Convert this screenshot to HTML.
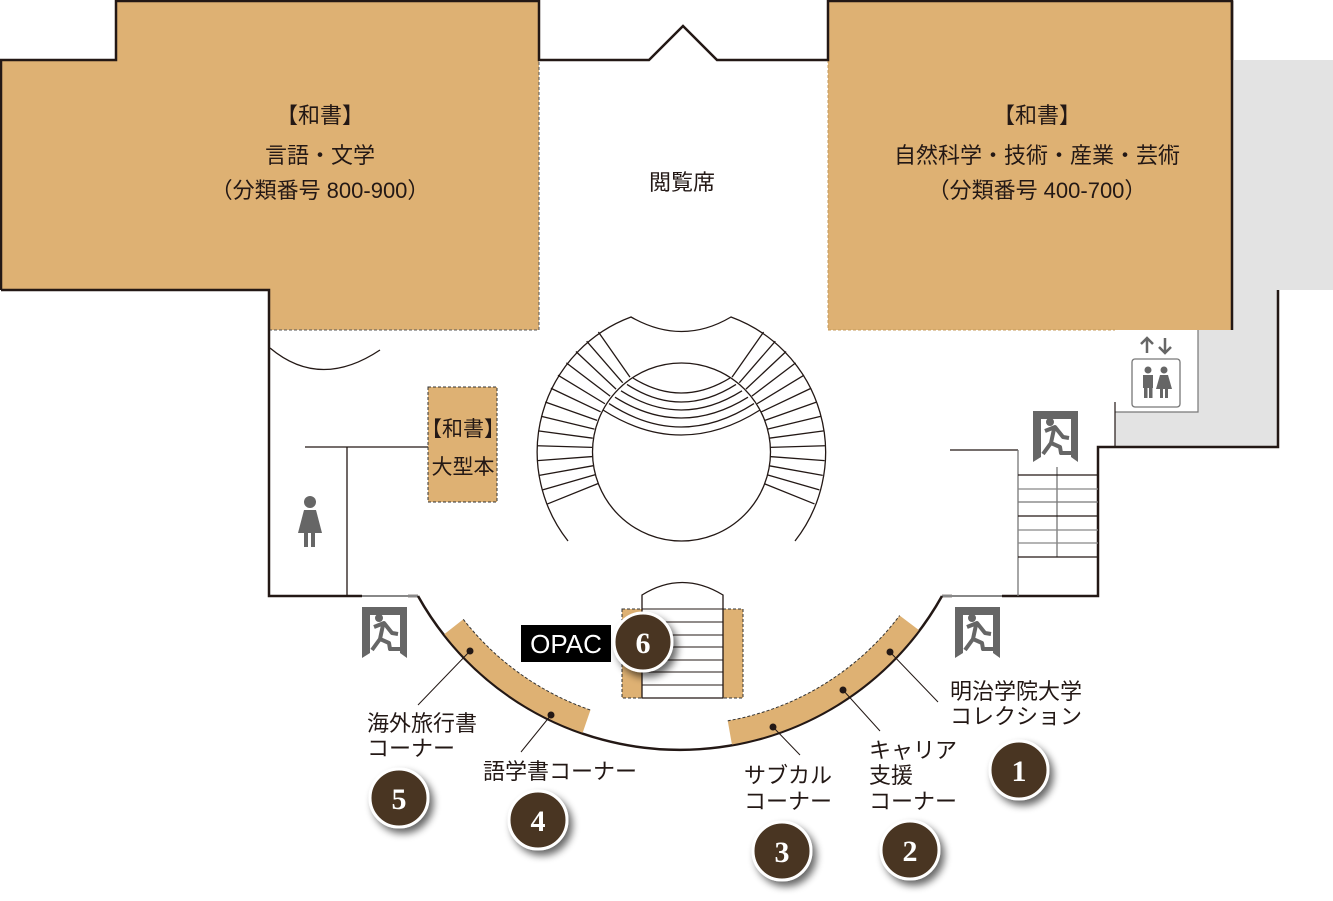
<!DOCTYPE html>
<html><head><meta charset="utf-8"><style>
html,body{margin:0;padding:0;background:#fff;}
svg{display:block;}
text{font-family:"Liberation Sans","Noto Sans CJK JP",sans-serif;fill:#231815;}
.n{font-family:"Liberation Serif","DejaVu Serif",serif;font-weight:bold;fill:#fff;font-size:30px;text-anchor:middle;}
</style></head><body>
<svg id="s" width="1333" height="901" viewBox="0 0 1333 901" xmlns="http://www.w3.org/2000/svg">
<defs>
<filter id="sh" x="-50%" y="-50%" width="200%" height="200%"><feGaussianBlur in="SourceAlpha" stdDeviation="4"/><feOffset dx="4" dy="5"/><feComponentTransfer><feFuncA type="linear" slope="0.6"/></feComponentTransfer><feMerge><feMergeNode/><feMergeNode in="SourceGraphic"/></feMerge></filter>
</defs>
<!-- gray area -->
<path d="M1232,60 H1333 V290 H1278 V447 H1115 V330 H1232 Z" fill="#e3e3e3"/>
<rect x="1115" y="330" width="83" height="82" fill="#fff"/>
<path d="M1198,330 V412 H1115" fill="none" stroke="#777" stroke-width="1.2"/>
<line x1="1115" y1="402" x2="1115" y2="447" stroke="#231815" stroke-width="1.2"/>
<!-- orange blocks -->
<path d="M1,60 H116 V1 H539 V330 H269 V290 H1 Z" fill="#deb173"/>
<path d="M828,1 H1232 V330 H828 Z" fill="#deb173"/>
<path d="M269,330 H539 V60" fill="none" stroke="#555" stroke-width="1" stroke-dasharray="3,2"/>
<path d="M828,60 V330 H1115" fill="none" stroke="#c49a5a" stroke-width="1" stroke-dasharray="3,2"/>
<!-- outline -->
<path d="M1,290 V60 H116 V1 H539 V60 H649 L683,26 L717,60 H828 V1 H1232 V60 M1232,60 V330 M1278,290 V447 H1098 V596 H1002 M942,596 H952 M418,596 H408 M362,596 H269 V290 H1" fill="none" stroke="#231815" stroke-width="2.5"/>
<path d="M1232,1 V60" stroke="#231815" stroke-width="2.5"/>
<line x1="942" y1="596" x2="1002" y2="596" stroke="#888" stroke-width="2"/>
<line x1="362" y1="596" x2="418" y2="596" stroke="#888" stroke-width="2"/>
<!-- big arc -->
<path d="M418,596 A300,300 0 0 0 942,596" fill="none" stroke="#231815" stroke-width="2.5"/>
<!-- arc shelves -->
<path id="sl" d="" fill="none" stroke="#deb173" stroke-width="24"/>
<path id="sr" d="" fill="none" stroke="#deb173" stroke-width="24"/>
<g id="rays" stroke="#231815" stroke-width="1.3" fill="none"></g>
<!-- stairs circle -->
<path d="M568,541 A144,144 0 0 1 631,317 Q682,346 731,317 A144,144 0 0 1 795,541" fill="none" stroke="#231815" stroke-width="1.3"/>
<circle cx="681.5" cy="452" r="89" fill="#fff" stroke="#231815" stroke-width="1.3"/>
<g fill="none" stroke="#231815" stroke-width="1.3" id="arcs"></g>
<!-- door arc -->
<path d="M270,348 Q320,390 380,350" fill="none" stroke="#231815" stroke-width="1.3"/>
<!-- restroom lines -->
<line x1="305" y1="447" x2="428" y2="447" stroke="#231815" stroke-width="1.3"/>
<line x1="347" y1="447" x2="347" y2="596" stroke="#231815" stroke-width="1.3"/>
<!-- large books box -->
<rect x="428" y="387" width="69" height="115" fill="#deb173" stroke="#333" stroke-width="1" stroke-dasharray="3,2"/>
<text x="463" y="436" font-size="21" text-anchor="middle">【和書】</text>
<text x="463" y="474" font-size="21" text-anchor="middle">大型本</text>
<!-- woman icon -->
<g fill="#666"><circle cx="310" cy="502" r="6"/><path d="M304,510 H316 L322,533 H298 Z"/><rect x="304" y="532" width="4" height="15"/><rect x="311" y="532" width="4" height="15"/></g>
<!-- right stairs -->
<g stroke="#231815" stroke-width="1.3">
<line x1="950" y1="450" x2="1018" y2="450"/>
<line x1="1018" y1="450" x2="1018" y2="596" stroke="#777"/>
<line x1="1057" y1="467" x2="1057" y2="557" stroke="#777"/>
<line x1="1018" y1="475" x2="1098" y2="475"/><line x1="1018" y1="489" x2="1098" y2="489" stroke="#888"/>
<line x1="1018" y1="502" x2="1098" y2="502" stroke="#777"/><line x1="1018" y1="516" x2="1098" y2="516"/>
<line x1="1018" y1="530" x2="1098" y2="530" stroke="#888"/><line x1="1018" y1="543" x2="1098" y2="543" stroke="#888"/>
<line x1="1018" y1="557" x2="1098" y2="557"/>
</g>
<!-- elevator -->
<g stroke="#666" stroke-width="2.5" fill="none"><path d="M1147,353 V338 M1141,344 L1147,338 L1153,344"/><path d="M1165,338 V353 M1159,347 L1165,353 L1171,347"/></g>
<rect x="1132" y="359" width="48" height="48" rx="3" fill="#fff" stroke="#777" stroke-width="1.3"/>
<g fill="#666"><circle cx="1148" cy="370" r="3.5"/><rect x="1143" y="375" width="10" height="13"/><rect x="1144" y="387" width="3.5" height="11"/><rect x="1149" y="387" width="3.5" height="11"/>
<circle cx="1164" cy="370" r="3.5"/><path d="M1160,375 H1168 L1172,389 H1156 Z"/><rect x="1160" y="388" width="3" height="10"/><rect x="1165" y="388" width="3" height="10"/></g>
<!-- exit signs -->
<g id="ex"></g>
<!-- OPAC stairs -->
<rect x="622" y="609" width="20" height="89" fill="#deb173" stroke="#333" stroke-dasharray="3,2" stroke-width="1"/>
<rect x="723" y="609" width="20" height="89" fill="#deb173" stroke="#333" stroke-dasharray="3,2" stroke-width="1"/>
<path d="M642,698 V595 Q682,570 723,595 V698 Z" fill="#fff" stroke="#231815" stroke-width="1.3"/>
<g stroke="#231815" stroke-width="1"><line x1="642" y1="609" x2="723" y2="609"/><line x1="642" y1="622" x2="723" y2="622"/><line x1="642" y1="635" x2="723" y2="635"/><line x1="642" y1="647" x2="723" y2="647"/><line x1="642" y1="660" x2="723" y2="660"/><line x1="642" y1="672" x2="723" y2="672"/><line x1="642" y1="685" x2="723" y2="685"/></g>
<rect x="521" y="625" width="90" height="37" fill="#000"/>
<text x="566" y="653" font-size="26" text-anchor="middle" style="fill:#fff">OPAC</text>
<!-- dots & leaders -->
<g stroke="#231815" stroke-width="1"><line x1="470" y1="651" x2="418" y2="705"/><line x1="551" y1="715" x2="521" y2="752"/><line x1="773" y1="727" x2="800" y2="755"/><line x1="843" y1="690" x2="880" y2="731"/><line x1="890" y1="652" x2="938" y2="702"/></g>
<g fill="#231815"><circle cx="470" cy="651" r="3.5"/><circle cx="551" cy="715" r="3.5"/><circle cx="773" cy="727" r="3.5"/><circle cx="843" cy="690" r="3.5"/><circle cx="890" cy="652" r="3.5"/></g>
<!-- texts -->
<g font-size="22" text-anchor="middle">
<text x="320" y="123">【和書】</text>
<text x="320" y="163">言語・文学</text>
<text x="320" y="198">（分類番号 800-900）</text>
<text x="1037" y="123">【和書】</text>
<text x="1037" y="163">自然科学・技術・産業・芸術</text>
<text x="1037" y="198">（分類番号 400-700）</text>
<text x="682" y="190">閲覧席</text>
</g>
<g font-size="22">
<text x="367" y="731">海外旅行書</text><text x="367" y="756">コーナー</text>
<text x="483" y="779">語学書コーナー</text>
<text x="744" y="783">サブカル</text><text x="744" y="809">コーナー</text>
<text x="869" y="758">キャリア</text><text x="869" y="783">支援</text><text x="869" y="809">コーナー</text>
<text x="950" y="699">明治学院大学</text><text x="950" y="724">コレクション</text>
</g>
<!-- numbered circles -->
<g id="nums"></g>
</svg>
<script>
var NS="http://www.w3.org/2000/svg";
function el(t,a,p){var e=document.createElementNS(NS,t);for(var k in a)e.setAttribute(k,a[k]);(p||document.getElementById('s')).appendChild(e);return e;}
function pt(cx,cy,r,d){var a=d*Math.PI/180;return [cx+r*Math.cos(a),cy+r*Math.sin(a)];}
function arc(r,a1,a2){var p1=pt(680,450,r,a1),p2=pt(680,450,r,a2);return "M"+p1[0]+","+p1[1]+" A"+r+","+r+" 0 0 0 "+p2[0]+","+p2[1];}
document.getElementById('sl').setAttribute('d',arc(287,142,109));
document.getElementById('sr').setAttribute('d',arc(287,80,37));
[[142,109],[80,37]].forEach(function(a){el('path',{d:arc(275,a[0],a[1]),fill:'none',stroke:'#333','stroke-width':1,'stroke-dasharray':'3,2'});});
var g=document.getElementById('rays');
for(var i=0;i<14;i++){var a=158+i*(77/13);var p=pt(681,450,89,a),q=pt(681,450,144,a);el('line',{x1:p[0],y1:p[1],x2:q[0],y2:q[1]},g);
var ar=(540-a)%360; var p2=pt(681,450,89,ar),q2=pt(681,450,144,ar);el('line',{x1:p2[0],y1:p2[1],x2:q2[0],y2:q2[1]},g);}
var ga=document.getElementById('arcs');
var bot=[393,402,410,418,427,435];
for(var j=0;j<6;j++){var t=j/5;var ex=633-30*t,ey=378+32*t,exr=730+30*t;el('path',{d:"M"+ex+","+ey+" Q681,"+(2*bot[j]-ey)+" "+exr+","+ey},ga);}
var gx=document.getElementById('ex');
[[362,607],[955,607],[1033,411]].forEach(function(c){var x=c[0],y=c[1];var gg=el('g',{transform:'translate('+x+','+y+')'},gx);
el('path',{d:'M0,0 H45 V51 L38,46 V8 H8 V46 L0,51 Z',fill:'#666'},gg);
el('circle',{cx:17,cy:11,r:4,fill:'#666'},gg);
el('path',{d:'M12,20 L22,16 L30,26 L36,27 M21,18 L18,32 L10,43 M18,32 L27,36 L28,42 L40,42',fill:'none',stroke:'#666','stroke-width':4,'stroke-linejoin':'round'},gg);});
var gn=document.getElementById('nums');
[[1019,770,'1'],[910,850,'2'],[782,851,'3'],[538,820,'4'],[399,798,'5'],[643,642,'6']].forEach(function(c){
el('circle',{cx:c[0],cy:c[1],r:29,fill:'#4a3521',stroke:'#fff','stroke-width':3,filter:'url(#sh)'},gn);
var t=el('text',{x:c[0],y:c[1]+11,'class':'n'},gn);t.textContent=c[2];});
</script>
</body></html>
